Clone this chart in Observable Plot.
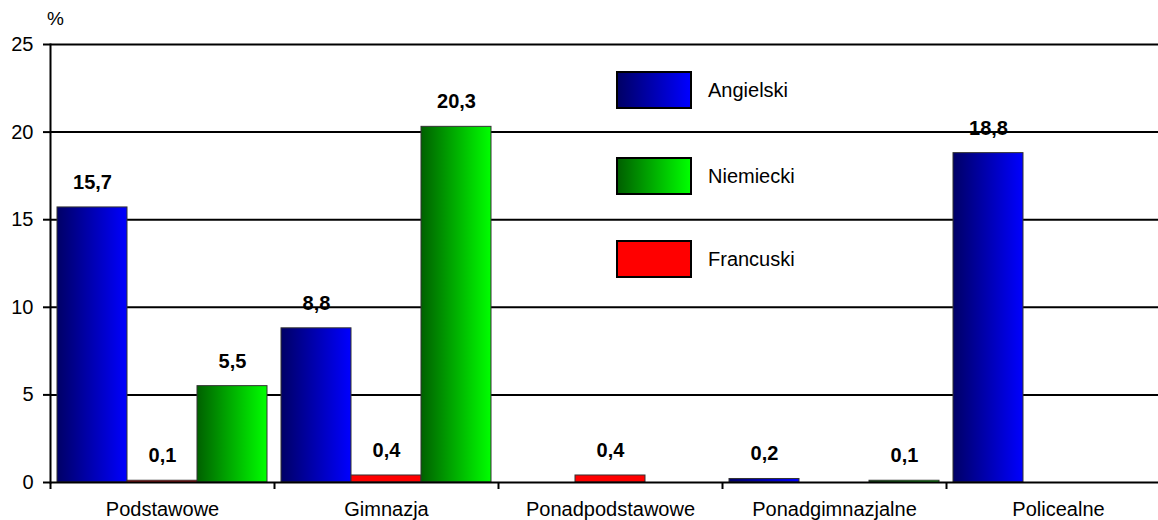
<!DOCTYPE html>
<html>
<head>
<meta charset="utf-8">
<script src="https://cdn.jsdelivr.net/npm/d3@7"></script>
<script src="https://cdn.jsdelivr.net/npm/@observablehq/plot@0.6"></script>
<style>
  html, body { margin: 0; padding: 0; background: white; overflow: hidden; }
  #wrap { position: relative; width: 1158px; height: 520px; font-family: "Liberation Sans", Arial, sans-serif; color: black; }
  .pct { position: absolute; left: 47px; top: 9px; font-size: 19px; line-height: 19px; }
  .lg-box { position: absolute; left: 616px; width: 72px; height: 34px; border: 2px solid black; }
  .lg-txt { position: absolute; left: 708px; height: 38px; line-height: 38px; font-size: 20px; }
</style>
</head>
<body>
<div id="wrap"></div>
<script>
// ---- data ----
const categories = ["Podstawowe", "Gimnazja", "Ponadpodstawowe", "Ponadgimnazjalne", "Policealne"];
const series = ["Angielski", "Francuski", "Niemiecki"];
const angielski = [15.7, 8.8, null, 0.2, 18.8];
const francuski = [0.1, 0.4, 0.4, null, null];
const niemiecki = [5.5, 20.3, null, 0.1, null];
const yTicks = [0, 5, 10, 15, 20, 25];
const legendOrder = ["Angielski", "Niemiecki", "Francuski"];

const valuesBySeries = {Angielski: angielski, Francuski: francuski, Niemiecki: niemiecki};
const rows = [];
categories.forEach((c, i) => {
  series.forEach(s => rows.push({category: c, series: s, value: valuesBySeries[s][i]}));
});

const fills = {Angielski: "url(#gBlue)", Francuski: "#ff0000", Niemiecki: "url(#gGreen)"};
const cssFills = {
  Angielski: "linear-gradient(to right, #000066, #0000ff)",
  Niemiecki: "linear-gradient(to right, #006000, #00ff00)",
  Francuski: "#ff0000"
};
const fmt = v => v.toFixed(1).replace(".", ",");

const fxRange = [50, 1170];
const bandwidth = (fxRange[1] - fxRange[0]) / categories.length;

const chart = Plot.plot({
  width: 1158,
  height: 520,
  marginLeft: 50,
  marginRight: 0,
  marginTop: 44,
  marginBottom: 38,
  style: {fontFamily: "'Liberation Sans', Arial, sans-serif", fontSize: "20px", color: "black", background: "white", overflow: "hidden"},
  fx: {domain: categories, range: fxRange, padding: 0, axis: null},
  x: {domain: series, paddingInner: 0, paddingOuter: 0.1, axis: null},
  y: {domain: [0, 25], axis: null},
  color: {type: "ordinal", domain: series, range: series.map(s => fills[s])},
  marks: [
    Plot.gridY(yTicks.filter(t => t > 0), {stroke: "black", strokeOpacity: 1, strokeWidth: 2}),
    Plot.barY(rows.filter(d => d.value != null), {
      fx: "category", x: "series", y: "value", fill: "series",
      stroke: "#333", strokeWidth: 1
    }),
    Plot.text(rows.filter(d => d.value != null), {
      fx: "category", x: "series", y: "value", text: d => fmt(d.value),
      dy: -25, fontWeight: "bold", fontSize: 20, fill: "black"
    }),
    Plot.ruleY([0], {stroke: "black", strokeWidth: 2}),
    Plot.frame({anchor: "left", facetAnchor: "left", stroke: "black", strokeWidth: 2}),
    Plot.axisY({ticks: yTicks, tickSize: 7, tickPadding: 10, strokeWidth: 2, label: null, tickFormat: d => d, fontSize: 20}),
    Plot.axisFx({anchor: "bottom", tickSize: 0, tickPadding: 19, label: null, fontSize: 20}),
    Plot.axisFx({anchor: "bottom", text: null, tickSize: 7, dx: -bandwidth / 2, strokeWidth: 2, label: null})
  ]
});

// gradient definitions for bar fills
const defs = d3.create("svg:defs");
const gBlue = defs.append("linearGradient").attr("id", "gBlue").attr("x1", 0).attr("x2", 1).attr("y1", 0).attr("y2", 0);
gBlue.append("stop").attr("offset", "0%").attr("stop-color", "#000066");
gBlue.append("stop").attr("offset", "100%").attr("stop-color", "#0000ff");
const gGreen = defs.append("linearGradient").attr("id", "gGreen").attr("x1", 0).attr("x2", 1).attr("y1", 0).attr("y2", 0);
gGreen.append("stop").attr("offset", "0%").attr("stop-color", "#006000");
gGreen.append("stop").attr("offset", "100%").attr("stop-color", "#00ff00");
chart.prepend(defs.node());

const wrap = document.getElementById("wrap");
wrap.appendChild(chart);

// "%" unit label
const pct = document.createElement("div");
pct.className = "pct";
pct.textContent = "%";
wrap.appendChild(pct);

// legend (inside plot area, transparent)
const legendTops = [71, 157, 240];
legendOrder.forEach((s, i) => {
  const box = document.createElement("div");
  box.className = "lg-box";
  box.style.top = legendTops[i] + "px";
  box.style.background = cssFills[s];
  wrap.appendChild(box);
  const txt = document.createElement("div");
  txt.className = "lg-txt";
  txt.style.top = legendTops[i] + "px";
  txt.textContent = s;
  wrap.appendChild(txt);
});
</script>
</body>
</html>
